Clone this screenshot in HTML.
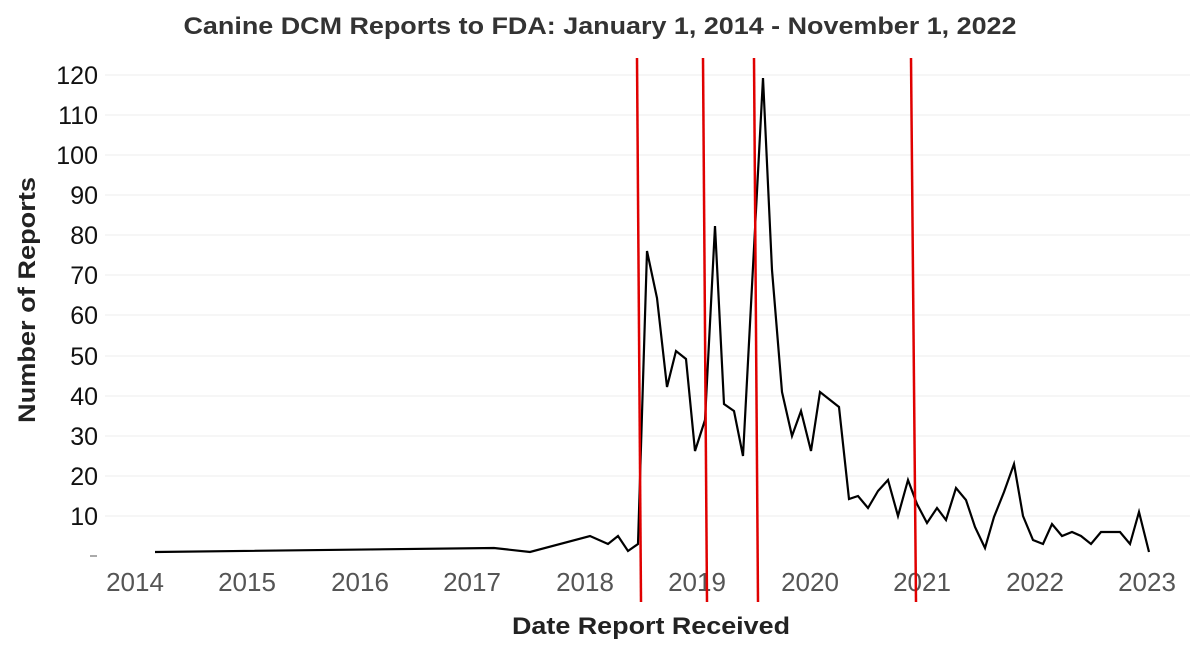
<!DOCTYPE html>
<html><head><meta charset="utf-8"><style>body{margin:0;background:#fff}svg{display:block}</style></head><body>
<svg width="1200" height="648" viewBox="0 0 1200 648" xmlns="http://www.w3.org/2000/svg" font-family="Liberation Sans, sans-serif">
<text x="600" y="34" text-anchor="middle" font-size="24" font-weight="bold" fill="#333" textLength="833" lengthAdjust="spacingAndGlyphs">Canine DCM Reports to FDA: January 1, 2014 - November 1, 2022</text>
<g stroke="#eeeeee" stroke-width="1">
<line x1="105" x2="1190" y1="75" y2="75"/><line x1="105" x2="1190" y1="115" y2="115"/><line x1="105" x2="1190" y1="155" y2="155"/><line x1="105" x2="1190" y1="195" y2="195"/><line x1="105" x2="1190" y1="235" y2="235"/><line x1="105" x2="1190" y1="275" y2="275"/><line x1="105" x2="1190" y1="315" y2="315"/><line x1="105" x2="1190" y1="356" y2="356"/><line x1="105" x2="1190" y1="396" y2="396"/><line x1="105" x2="1190" y1="436" y2="436"/><line x1="105" x2="1190" y1="476" y2="476"/><line x1="105" x2="1190" y1="516" y2="516"/>
</g>
<g font-size="25" fill="#111" text-anchor="end">
<text x="98" y="84">120</text><text x="98" y="124">110</text><text x="98" y="164">100</text><text x="98" y="204">90</text><text x="98" y="244">80</text><text x="98" y="284">70</text><text x="98" y="324">60</text><text x="98" y="365">50</text><text x="98" y="405">40</text><text x="98" y="445">30</text><text x="98" y="485">20</text><text x="98" y="525">10</text>
</g>
<line x1="90" x2="97" y1="556" y2="556" stroke="#555" stroke-width="1"/>
<g font-size="26" fill="#555" text-anchor="middle">
<text x="135" y="591">2014</text><text x="247" y="591">2015</text><text x="360" y="591">2016</text><text x="472" y="591">2017</text><text x="585" y="591">2018</text><text x="697" y="591">2019</text><text x="810" y="591">2020</text><text x="922" y="591">2021</text><text x="1035" y="591">2022</text><text x="1147" y="591">2023</text>
</g>
<text x="651" y="634" text-anchor="middle" font-size="24" font-weight="bold" fill="#222" textLength="278" lengthAdjust="spacingAndGlyphs">Date Report Received</text>
<text transform="translate(35,300) rotate(-90)" text-anchor="middle" font-size="24" font-weight="bold" fill="#222" textLength="246" lengthAdjust="spacingAndGlyphs">Number of Reports</text>
<polyline fill="none" stroke="#000" stroke-width="2.2" stroke-linejoin="miter" points="155,552 494,548 530,552 590,536 608,544 618,536 628,551 638,544 647,251 657,298 667,387 676,351 686,359 695,451 705,420 715,226 724,404 734,411 743,456 763,78 772,270 782,392 792,436 801,411 811,451 820,392 839,407 849,499 858,496 868,508 878,491 888,480 898,516 908,480 917,504 927,523 937,508 946,520 956,488 966,500 975,527 985,548 994,517 1004,492 1014,464 1023,516 1033,540 1043,544 1052,524 1062,536 1072,532 1081,536 1091,544 1101,532 1120,532 1130,544 1139,512 1149,552"/>
<g stroke="#e00000" stroke-width="2.5">
<line x1="637" y1="58" x2="641" y2="602"/><line x1="703" y1="58" x2="707" y2="602"/><line x1="754" y1="58" x2="758" y2="602"/><line x1="911" y1="58" x2="916" y2="602"/>
</g>
</svg>
</body></html>
